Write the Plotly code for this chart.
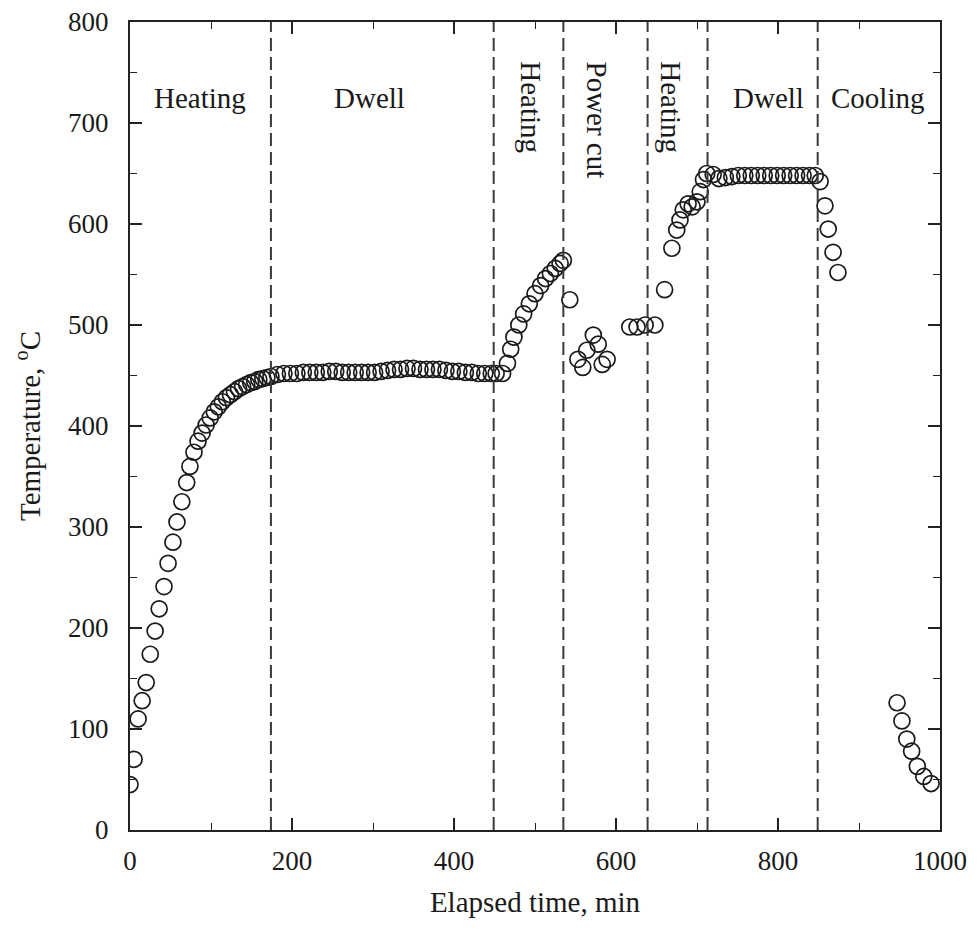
import plotly.graph_objects as go

# ---- data ----
heat1_t = [0, 5, 10, 15, 20, 25, 31, 36, 42, 47, 53, 58, 64, 70, 74, 79, 84, 89, 94, 99,
           104, 109, 114, 119, 124, 129, 134, 139, 144, 149, 154, 159, 164, 169, 174]
heat1_y = [45, 70, 110, 128, 146, 174, 197, 219, 241, 264, 285, 305, 325, 344, 360, 374, 385, 393, 401, 408,
           414, 419, 424, 428, 431, 434, 437, 439, 441, 443, 444, 446, 447, 448, 449]

dwell1_t = [182, 190, 198, 206, 214, 222, 230, 238, 246, 254, 262, 270, 278, 286, 294, 302, 310,
            318, 326, 334, 342, 350, 358, 366, 374, 382, 390, 398, 406, 414, 422, 430, 438, 446]
dwell1_y = [451, 452, 452, 452, 453, 453, 453, 453, 454, 454, 453, 453, 453, 453, 453, 453, 454,
            455, 456, 456, 457, 457, 456, 456, 456, 456, 455, 454, 454, 453, 453, 452, 452, 452]

heat2_t = [452, 460, 466, 470, 474, 480, 486, 493, 500, 507, 513, 519, 525, 531, 535]
heat2_y = [452, 452, 462, 476, 488, 500, 511, 521, 531, 539, 546, 551, 556, 561, 564]

cut_t = [543, 553, 559, 564, 572, 578, 583, 589, 617, 626, 636, 648, 660]
cut_y = [525, 466, 458, 475, 490, 481, 461, 466, 498, 498, 500, 500, 535]

heat3_t = [669, 675, 679, 683, 689, 694, 700, 704, 708, 712]
heat3_y = [576, 594, 604, 614, 620, 617, 622, 632, 644, 650]

dwell2_t = [720, 727, 735, 743, 751, 759, 767, 775, 783, 791, 799, 807, 815, 823, 831, 839, 846]
dwell2_y = [649, 645, 646, 647, 648, 648, 648, 648, 648, 648, 648, 648, 648, 648, 648, 648, 648]

cool_t = [852, 858, 862, 868, 874, 947, 953, 959, 965, 972, 980, 989]
cool_y = [642, 618, 595, 572, 552, 126, 108, 90, 78, 63, 53, 46]

phase_bounds = [174, 449, 535, 639, 713, 849]

labels_h = ["Heating", "Dwell", "Dwell", "Cooling"]
labels_h_x = [87, 296, 788, 923]
labels_v = ["Heating", "Power cut", "Heating"]
labels_v_x = [494, 577, 668]

x_ticks = [0, 200, 400, 600, 800, 1000]
y_ticks = [0, 100, 200, 300, 400, 500, 600, 700, 800]

all_t = heat1_t + dwell1_t + heat2_t + cut_t + heat3_t + dwell2_t + cool_t
all_y = heat1_y + dwell1_y + heat2_y + cut_y + heat3_y + dwell2_y + cool_y

FONT = "Liberation Serif, Times New Roman, serif"
INK = "#1a1a1a"

fig = go.Figure()
fig.add_trace(go.Scatter(
    x=all_t, y=all_y, mode="markers",
    marker=dict(symbol="circle-open", size=16, color=INK, line=dict(width=1.7)),
    showlegend=False,
))

for b in phase_bounds:
    fig.add_shape(type="line", x0=b, x1=b, y0=0, y1=800, xref="x", yref="y",
                  line=dict(color="#3a3a3a", width=2, dash="13px,6px"))

for txt, xv in zip(labels_h, labels_h_x):
    fig.add_annotation(x=xv, y=725, text=txt, showarrow=False,
                       font=dict(family=FONT, size=29, color=INK))
for txt, xv in zip(labels_v, labels_v_x):
    fig.add_annotation(x=xv, y=763, yanchor="top", text=txt, showarrow=False, textangle=90,
                       font=dict(family=FONT, size=29, color=INK))

axis_common = dict(
    showline=True, linecolor="#222", linewidth=2, mirror="allticks",
    ticks="inside", ticklen=12, tickwidth=1.6, tickcolor="#222",
    showgrid=False, zeroline=False, automargin=False,
    ticklabeloverflow="allow",
    tickfont=dict(family=FONT, size=27, color=INK),
)

fig.update_xaxes(range=[0, 1000], tickvals=x_ticks,
                 minor=dict(dtick=100, ticks="inside", ticklen=7, tickwidth=1.4, tickcolor="#222"),
                 title=dict(text="Elapsed time, min", font=dict(family=FONT, size=29, color=INK), standoff=16),
                 ticklabelstandoff=6, **axis_common)
fig.update_yaxes(range=[0, 800], tickvals=y_ticks,
                 minor=dict(dtick=50, ticks="inside", ticklen=7, tickwidth=1.4, tickcolor="#222"),
                 title=dict(text="Temperature, <sup>o</sup>C", font=dict(family=FONT, size=29, color=INK), standoff=19),
                 ticklabelstandoff=14, **axis_common)

# the page body adds an 8 px offset, so the figure is sized to sit at the reference position
fig.update_layout(
    width=972, height=943,
    margin=dict(l=122, r=40, t=14, b=121),
    paper_bgcolor="white", plot_bgcolor="white",
)

fig.write_html("out.html")
